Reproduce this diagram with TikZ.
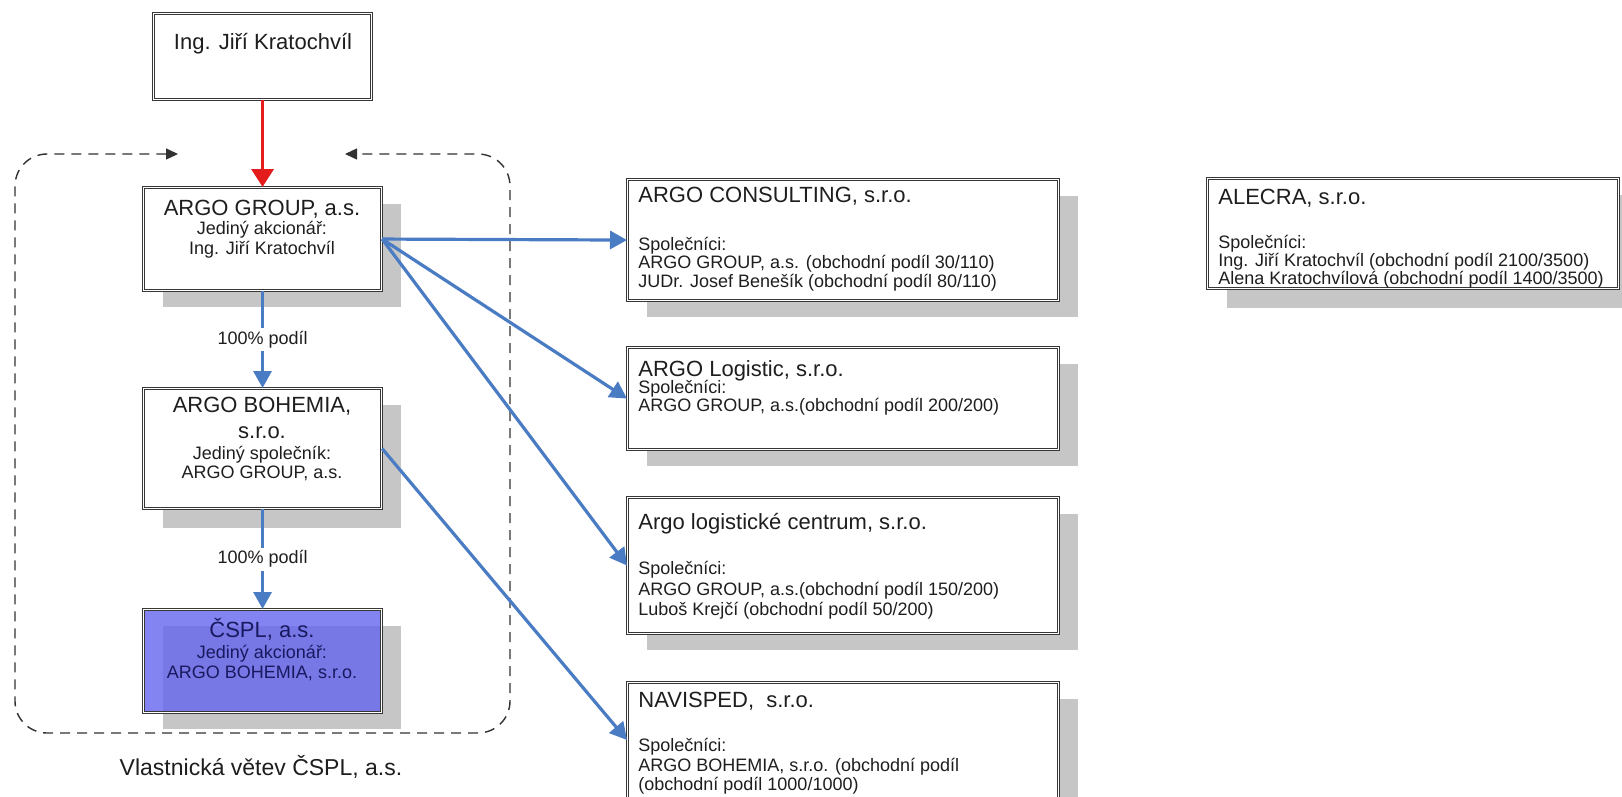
\documentclass[tikz,border=0pt]{standalone}
\usepackage{fontspec}
\setmainfont{Liberation Sans}
\usetikzlibrary{arrows.meta}
\definecolor{arblue}{RGB}{74,124,196}
\definecolor{arred}{RGB}{228,28,28}
\definecolor{shgray}{RGB}{198,198,198}
\definecolor{csplfill}{RGB}{100,100,238}
\definecolor{csplink}{RGB}{25,25,95}
\definecolor{frame}{RGB}{55,55,55}
\definecolor{txt}{RGB}{30,30,30}
\definecolor{dashgray}{RGB}{50,50,50}
\begin{document}
\begin{tikzpicture}[x=0.5pt,y=-0.5pt,
  orgbox/.style={draw=frame, line width=0.55pt, double=white, double distance=0.55pt, fill=white, rectangle, inner sep=0pt, anchor=north west},
  shadowbox/.style={fill=shgray, draw=none},
  ttl/.style={font=\fontsize{11}{13}\selectfont, text=txt, inner sep=0pt},
  bdy/.style={font=\fontsize{9}{11}\selectfont, text=txt, inner sep=0pt},
  lbl/.style={font=\fontsize{9}{11}\selectfont, text=txt, fill=white, inner sep=1.5pt},
  bluearrow/.style={draw=arblue, line width=1.6pt, -{Triangle[width=9pt,length=8.5pt]}},
  redarrow/.style={draw=arred, line width=1.8pt, -{Triangle[width=11pt,length=9pt]}},
  dashline/.style={draw=dashgray, line width=0.7pt, dash pattern=on 5pt off 3.5pt, rounded corners=16pt}
]
\useasboundingbox (0,0) rectangle (1622,797);
\clip (0,0) rectangle (1622,797);
\fill[white] (0,0) rectangle (1622,797);

% dashed container
\coordinate (dl) at (178,154);
\coordinate (dr) at (345,154);
\draw[dashline, {Triangle[width=5.5pt,length=6pt]}-{Triangle[width=5.5pt,length=6pt]}]
  (dl) -- (15,154) -- (15,733) -- (510,733) -- (510,154) -- (dr);

% shadows
\fill[shadowbox] (163,204) rectangle (401,307);
\fill[shadowbox] (163,405) rectangle (401,528);
\fill[shadowbox] (163,626) rectangle (401,729);
\fill[shadowbox] (647,196) rectangle (1078,317);
\fill[shadowbox] (647,364) rectangle (1078,466);
\fill[shadowbox] (647,514) rectangle (1078,650);
\fill[shadowbox] (647,699) rectangle (1078,830);
\fill[shadowbox] (1227,195) rectangle (1660,308);

% boxes
\node[orgbox, minimum width=109pt, minimum height=43pt] (kr) at (153,13) {};
\node[orgbox, minimum width=119pt, minimum height=51.5pt] (grp) at (143,187) {};
\node[orgbox, minimum width=119pt, minimum height=60pt] (boh) at (143,388) {};
\node[orgbox, minimum width=119pt, minimum height=51.5pt, fill=csplfill, fill opacity=0.8] (cspl) at (143,609) {};
\node[orgbox, minimum width=215.5pt, minimum height=60.5pt] (cons) at (627,179) {};
\node[orgbox, minimum width=215.5pt, minimum height=51pt] (logi) at (627,347) {};
\node[orgbox, minimum width=215.5pt, minimum height=68pt] (cent) at (627,497) {};
\node[orgbox, minimum width=215.5pt, minimum height=75pt] (navi) at (627,682) {};
\node[orgbox, minimum width=205.5pt, minimum height=55pt] (alec) at (1207,178) {};

% left column texts
\node[ttl, anchor=base] (kr-t) at (263,50) {Ing. Jiří Kratochvíl};

\node[ttl, anchor=base] (grp-t) at (262,215) {ARGO GROUP, a.s.};
\node[bdy, anchor=base] (grp-b1) at (262,234) {Jediný akcionář:};
\node[bdy, anchor=base] (grp-b2) at (262,254) {Ing. Jiří Kratochvíl};

\node[ttl, anchor=base] (boh-t1) at (262,412) {ARGO BOHEMIA,};
\node[ttl, anchor=base] (boh-t2) at (262,438) {s.r.o.};
\node[bdy, anchor=base] (boh-b1) at (262,459) {Jediný společník:};
\node[bdy, anchor=base] (boh-b2) at (262,478) {ARGO GROUP, a.s.};

\node[ttl, anchor=base, text=csplink] (cspl-t) at (262,637) {ČSPL, a.s.};
\node[bdy, anchor=base, text=csplink] (cspl-b1) at (262,658) {Jediný akcionář:};
\node[bdy, anchor=base, text=csplink] (cspl-b2) at (262,678) {ARGO BOHEMIA, s.r.o.};

\node[ttl, anchor=base, font=\fontsize{11.5}{13}\selectfont] (cap) at (261,775) {Vlastnická větev ČSPL, a.s.};

% right column texts
\node[ttl, anchor=base west] (cons-t) at (638,202) {ARGO CONSULTING, s.r.o.};
\node[bdy, anchor=base west] (cons-b1) at (638,250) {Společníci:};
\node[bdy, anchor=base west] (cons-b2) at (638,268) {ARGO GROUP, a.s. (obchodní podíl 30/110)};
\node[bdy, anchor=base west] (cons-b3) at (638,287) {JUDr. Josef Benešík (obchodní podíl 80/110)};

\node[ttl, anchor=base west] (logi-t) at (638,376) {ARGO Logistic, s.r.o.};
\node[bdy, anchor=base west] (logi-b1) at (638,393) {Společníci:};
\node[bdy, anchor=base west] (logi-b2) at (638,411) {ARGO GROUP, a.s.(obchodní podíl 200/200)};

\node[ttl, anchor=base west] (cent-t) at (638,529) {Argo logistické centrum, s.r.o.};
\node[bdy, anchor=base west] (cent-b1) at (638,574) {Společníci:};
\node[bdy, anchor=base west] (cent-b2) at (638,595) {ARGO GROUP, a.s.(obchodní podíl 150/200)};
\node[bdy, anchor=base west] (cent-b3) at (638,615) {Luboš Krejčí (obchodní podíl 50/200)};

\node[ttl, anchor=base west] (navi-t) at (638,707) {NAVISPED,\ \ s.r.o.};
\node[bdy, anchor=base west] (navi-b1) at (638,751) {Společníci:};
\node[bdy, anchor=base west] (navi-b2) at (638,771) {ARGO BOHEMIA, s.r.o. (obchodní podíl};
\node[bdy, anchor=base west] (navi-b3) at (638,790) {(obchodní podíl 1000/1000)};

\node[ttl, anchor=base west] (alec-t) at (1218,205) {ALECRA, s.r.o.};
\node[bdy, anchor=base west] (alec-b1) at (1218,248) {Společníci:};
\node[bdy, anchor=base west] (alec-b2) at (1218,266) {Ing. Jiří Kratochvíl (obchodní podíl 2100/3500)};
\node[bdy, anchor=base west] (alec-b3) at (1218,284) {Alena Kratochvílová (obchodní podíl 1400/3500)};

% connectors
\draw[redarrow] (kr.south) -- (grp.north);
\draw[bluearrow] (grp.south) -- node[lbl] (l1) {100\% podíl} (boh.north);
\draw[bluearrow] (boh.south) -- node[lbl] (l2) {100\% podíl} (cspl.north);
\draw[bluearrow] (grp.east) -- (cons.west);
\draw[bluearrow] (grp.east) -- (logi.west);
\draw[bluearrow] (grp.east) -- (cent.west);
\draw[bluearrow] (boh.east) -- ([yshift=-29pt]navi.north west);
\end{tikzpicture}
\end{document}
